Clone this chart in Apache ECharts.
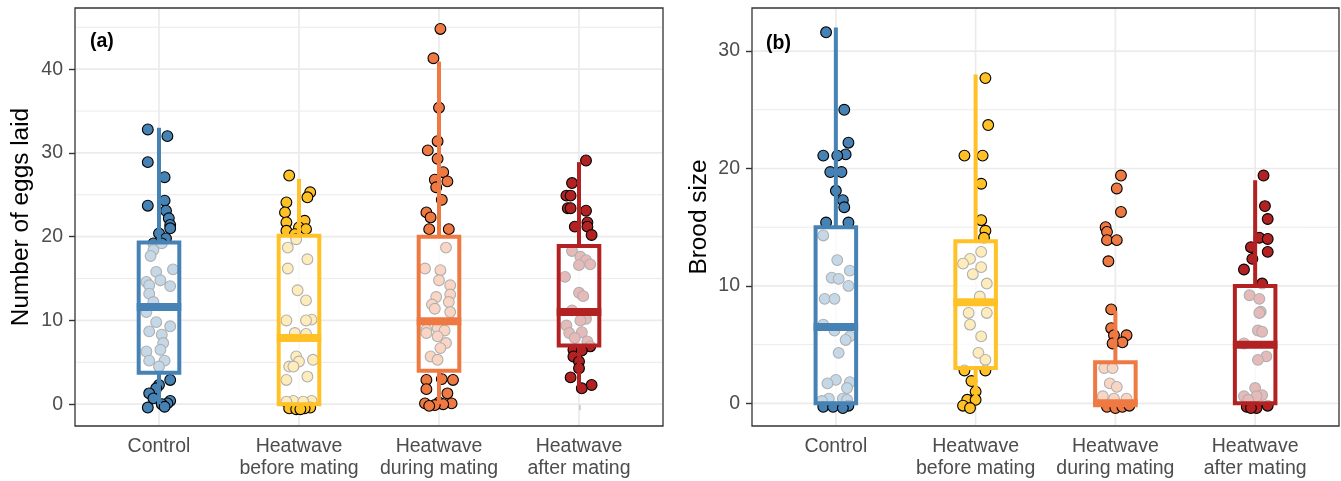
<!DOCTYPE html>
<html><head><meta charset="utf-8">
<script src="https://cdn.jsdelivr.net/npm/echarts@6/dist/echarts.min.js"></script>
<style>html,body{margin:0;padding:0;background:#fff}#c{width:1341px;height:481px}</style>
</head><body><div id="c"></div><script>
const categories = ['Control', 'Heatwave\nbefore mating', 'Heatwave\nduring mating', 'Heatwave\nafter mating'];
const colors = ['#4682B4', '#FFC125', '#EE7942', '#B22222'];
const eggsTicks = [0, 10, 20, 30, 40];
const eggsMinor = [5, 15, 25, 35, 45];
const broodTicks = [0, 10, 20, 30];
const broodMinor = [5, 15, 25];

// box stats per group: [lower whisker, Q1, median, Q3, upper whisker]
const eggsStats = [[0, 3.75, 11.6, 19.3, 33.0], [0, 0, 7.9, 20.1, 26.9], [0, 4, 9.9, 20.0, 40.9], [1.9, 7, 11, 18.9, 28.9]];
const broodStats = [[0, 0, 6.5, 15, 32], [0, 3, 8.6, 13.8, 28], [0, 0, 0, 3.5, 7.9], [0, 0, 5, 10, 19]];

// (a) number of eggs laid: values and horizontal jitter (category units)
const eggsControl = [32.8, 32.0, 28.9, 27.1, 23.7, 24.3, 23.1, 22.2, 21.4, 21.0, 20.4, 19.8, 19.2, 19.2, 18.4, 17.7, 16.1, 15.8, 14.8, 14.6, 14.2, 14.1, 13.2, 12.2, 11.0, 9.8, 9.3, 8.7, 8.3, 7.3, 6.5, 6.3, 5.2, 5.2, 4.5, 2.9, 2.3, 1.9, 1.3, 0.7, 0.4, 0.1, 0.0, -0.3, -0.4];
const eggsControlJit = [-0.08, 0.06, -0.08, 0.04, -0.08, 0.04, 0.05, 0.07, 0.08, 0.08, 0.00, 0.05, -0.04, 0.02, -0.04, -0.06, 0.10, -0.02, 0.01, -0.09, -0.07, 0.08, -0.07, -0.04, -0.09, -0.02, 0.08, -0.07, 0.02, 0.03, 0.01, -0.09, -0.07, 0.04, 0.00, 0.08, 0.00, -0.02, -0.07, -0.04, 0.08, 0.06, 0.02, 0.04, -0.08];
const eggsBefore = [27.3, 25.3, 24.7, 24.1, 22.9, 21.9, 21.7, 21.1, 20.9, 20.7, 20.3, 19.7, 18.7, 17.3, 16.2, 13.6, 12.4, 10.1, 10.0, 10.0, 8.5, 8.4, 5.7, 5.3, 5.1, 4.5, 4.5, 3.3, 2.9, 0.4, 0.4, 0.3, 0.3, -0.4, -0.5, -0.5, -0.6, -0.6];
const eggsBeforeJit = [-0.07, 0.08, 0.06, -0.09, -0.10, 0.04, -0.09, 0.00, 0.05, -0.09, -0.03, -0.02, -0.08, 0.06, -0.08, -0.01, 0.05, 0.09, -0.09, 0.05, -0.03, 0.05, -0.02, 0.10, 0.00, -0.07, -0.04, 0.06, -0.09, -0.04, 0.09, -0.09, 0.03, 0.08, -0.07, 0.04, -0.02, 0.01];
const eggsDuring = [44.8, 41.3, 35.4, 31.4, 30.3, 29.3, 27.7, 26.8, 26.6, 25.9, 24.4, 22.9, 22.3, 20.9, 20.9, 18.7, 16.2, 16.0, 14.8, 14.2, 13.1, 12.8, 12.2, 11.9, 11.4, 11.0, 9.1, 8.9, 8.8, 8.5, 8.1, 7.3, 6.7, 5.7, 5.3, 3.0, 2.9, 2.9, 1.8, 1.3, 0.2, 0.1, 0.1, 0.0, -0.1, -0.2];
const eggsDuringJit = [0.01, -0.04, 0.00, -0.01, -0.08, -0.01, 0.03, -0.03, 0.06, -0.02, 0.02, -0.09, -0.06, -0.07, 0.07, 0.05, -0.10, 0.01, 0.00, 0.08, 0.08, -0.02, 0.07, -0.05, -0.03, 0.08, -0.01, -0.09, 0.04, -0.09, -0.01, 0.05, 0.01, -0.06, -0.01, 0.02, -0.09, 0.10, -0.09, 0.06, 0.00, -0.10, 0.09, 0.03, -0.03, -0.07];
const eggsAfter = [29.1, 26.4, 24.9, 24.9, 23.4, 23.4, 23.1, 21.7, 21.2, 21.2, 20.2, 18.3, 17.6, 17.2, 16.7, 16.6, 15.2, 13.3, 12.9, 11.2, 10.2, 10.0, 9.4, 8.6, 8.5, 7.9, 7.5, 6.9, 6.5, 6.4, 5.7, 5.1, 4.3, 3.2, 2.3, 1.9];
const eggsAfterJit = [0.05, -0.05, -0.09, -0.06, -0.08, -0.06, 0.05, 0.06, -0.03, 0.06, 0.09, -0.05, 0.01, 0.05, 0.08, 0.00, -0.10, 0.00, 0.03, -0.05, 0.05, 0.01, -0.09, 0.02, -0.07, -0.03, 0.06, 0.08, -0.04, 0.02, -0.04, 0.00, 0.00, -0.06, 0.09, 0.02];

// (b) brood size
const broodControl = [31.6, 25.0, 22.2, 21.2, 21.1, 21.1, 19.7, 19.7, 18.1, 17.3, 16.7, 15.4, 15.4, 14.3, 12.2, 11.3, 10.7, 10.6, 10.0, 8.9, 8.9, 6.7, 6.2, 5.7, 5.4, 4.3, 2.0, 1.8, 1.7, 1.3, 0.4, 0.4, 0.3, 0.2, -0.2, -0.3, -0.3, -0.4];
const broodControlJit = [-0.07, 0.06, 0.09, 0.07, -0.09, 0.01, -0.04, 0.04, 0.00, 0.05, 0.06, -0.07, 0.09, -0.09, 0.01, 0.10, -0.03, 0.02, 0.09, -0.08, -0.01, -0.09, -0.01, 0.10, 0.07, 0.02, 0.00, 0.10, -0.06, 0.08, -0.05, 0.05, 0.08, -0.10, 0.09, -0.09, -0.02, 0.05];
const broodBefore = [27.7, 23.7, 21.1, 21.1, 18.7, 15.6, 14.7, 14.1, 12.9, 12.3, 11.9, 11.6, 11.0, 10.2, 9.1, 7.7, 7.7, 6.7, 5.7, 4.3, 3.7, 2.8, 2.8, 1.9, 1.0, 0.3, 0.3, -0.2, -0.4];
const broodBeforeJit = [0.07, 0.09, -0.08, 0.05, 0.04, 0.04, 0.07, 0.06, 0.04, -0.04, -0.09, 0.04, -0.02, 0.08, 0.03, -0.05, 0.08, -0.04, 0.04, 0.02, 0.07, -0.08, 0.07, -0.03, 0.00, -0.06, 0.00, -0.09, -0.04];
const broodDuring = [19.4, 18.3, 16.3, 15.0, 14.6, 13.9, 13.9, 12.1, 8.0, 6.4, 5.8, 5.8, 5.2, 5.1, 3.0, 3.0, 1.7, 1.4, 0.6, 0.4, 0.4, -0.3, -0.4, -0.3, -0.2];
const broodDuringJit = [0.04, 0.01, 0.04, -0.07, -0.06, -0.06, 0.01, -0.05, -0.03, -0.03, -0.01, 0.08, 0.05, -0.02, -0.08, -0.02, -0.04, 0.01, -0.09, 0.08, -0.01, -0.06, 0.00, 0.05, 0.10];
const broodAfter = [19.4, 16.8, 15.7, 14.1, 14.0, 13.3, 12.9, 12.3, 11.4, 10.2, 9.2, 8.9, 7.8, 7.7, 6.2, 6.1, 5.1, 4.0, 3.7, 1.3, 0.7, 0.6, 0.6, 0.3, -0.2, -0.3, -0.4, -0.4];
const broodAfterJit = [0.06, 0.07, 0.09, 0.03, 0.09, -0.03, 0.09, -0.02, -0.08, 0.05, -0.04, 0.03, 0.04, 0.03, 0.02, 0.05, -0.08, 0.08, 0.02, 0.00, 0.05, -0.08, 0.01, -0.05, 0.09, -0.06, 0.01, -0.03];

const eggsGroups = [[eggsControl, eggsControlJit], [eggsBefore, eggsBeforeJit], [eggsDuring, eggsDuringJit], [eggsAfter, eggsAfterJit]];
const broodGroups = [[broodControl, broodControlJit], [broodBefore, broodBeforeJit], [broodDuring, broodDuringJit], [broodAfter, broodAfterJit]];

const FONT = '"Liberation Sans", Arial, Helvetica, sans-serif';
const GRID = '#EBEBEB';
const BOX_HW = 0.145;

function hGrid(params, api) {
  const cs = params.coordSys;
  const y = api.coord([1, api.value(1)])[1];
  const major = api.value(2) === 1;
  return { type: 'line', shape: { x1: cs.x + 1, y1: y, x2: cs.x + cs.width - 1, y2: y },
    style: { stroke: GRID, lineWidth: major ? 1.7 : 1.0 } };
}
function vGrid(params, api) {
  const cs = params.coordSys;
  const x = api.coord([api.value(0), 0])[0];
  return { type: 'line', shape: { x1: x, y1: cs.y + 1, x2: x, y2: cs.y + cs.height - 1 },
    style: { stroke: GRID, lineWidth: 1.7 } };
}
function renderBox(params, api) {
  const x = api.value(0), lo = api.value(1), q1 = api.value(2), med = api.value(3), q3 = api.value(4), hi = api.value(5);
  const col = colors[params.dataIndex];
  const tl = api.coord([x - BOX_HW, q3]), br = api.coord([x + BOX_HW, q1]);
  const pHi = api.coord([x, hi]), pQ3 = api.coord([x, q3]), pQ1 = api.coord([x, q1]), pLo = api.coord([x, lo]);
  const ml = api.coord([x - BOX_HW, med]), mr = api.coord([x + BOX_HW, med]);
  return { type: 'group', children: [
    { type: 'line', shape: { x1: pHi[0], y1: pHi[1], x2: pQ3[0], y2: pQ3[1] }, style: { stroke: col, lineWidth: 4 } },
    { type: 'line', shape: { x1: pQ1[0], y1: pQ1[1], x2: pLo[0], y2: pLo[1] }, style: { stroke: col, lineWidth: 4 } },
    { type: 'rect', shape: { x: tl[0], y: tl[1], width: br[0] - tl[0], height: br[1] - tl[1] },
      style: { fill: 'rgba(255,255,255,0.69)', stroke: col, lineWidth: 4, lineJoin: 'miter' } },
    { type: 'line', shape: { x1: ml[0] - 2, y1: ml[1], x2: mr[0] + 2, y2: mr[1] }, style: { stroke: col, lineWidth: 8 } }
  ] };
}

function panelSeries(idx, groups, stats, ticks, minor) {
  const out = [];
  const gridData = ticks.map(v => [1, v, 1]).concat(minor.map(v => [1, v, 0]));
  out.push({ type: 'custom', xAxisIndex: idx, yAxisIndex: idx, z: 1, silent: true, renderItem: hGrid, data: gridData, clip: false });
  out.push({ type: 'custom', xAxisIndex: idx, yAxisIndex: idx, z: 1, silent: true, renderItem: vGrid, data: categories.map((c, i) => [i + 1, 0]), clip: false });
  groups.forEach((g, i) => {
    out.push({ type: 'scatter', xAxisIndex: idx, yAxisIndex: idx, z: 2, symbolSize: 10.8, silent: true,
      itemStyle: { color: colors[i], borderColor: '#000', borderWidth: 1.1, opacity: 1 },
      data: g[0].map((v, k) => [i + 1 + g[1][k], v]) });
  });
  out.push({ type: 'custom', xAxisIndex: idx, yAxisIndex: idx, z: 3, silent: true, renderItem: renderBox, clip: false,
    data: stats.map((s, i) => [i + 1].concat(s)) });
  return out;
}

function xAx(idx) {
  return { type: 'value', gridIndex: idx, min: 0.4, max: 4.6,
    axisLine: { show: false }, splitLine: { show: false },
    axisTick: { show: true, customValues: [1, 2, 3, 4], length: 6, lineStyle: { color: '#333', width: 1.4 } },
    axisLabel: { customValues: [1, 2, 3, 4], formatter: v => categories[Math.round(v) - 1] || '', color: '#4D4D4D',
      fontSize: 19.5, lineHeight: 22, margin: 10, fontFamily: FONT } };
}
function yAx(idx, min, max, ticks, name, gap) {
  return { type: 'value', gridIndex: idx, min: min, max: max,
    axisLine: { show: false }, splitLine: { show: false },
    axisTick: { show: true, customValues: ticks, length: 6, lineStyle: { color: '#333', width: 1.4 } },
    axisLabel: { customValues: ticks, color: '#4D4D4D', fontSize: 19.5, margin: 12, fontFamily: FONT },
    name: name, nameLocation: 'middle', nameGap: gap, nameRotate: 90,
    nameTextStyle: { fontSize: 24.4, color: '#000', fontFamily: FONT } };
}

const chart = echarts.init(document.getElementById('c'), null, { renderer: 'canvas' });
chart.setOption({
  animation: false,
  backgroundColor: '#fff',
  title: [
    { text: '(a)', left: 90, top: 32, padding: 0, textStyle: { fontSize: 19.5, fontWeight: 'bold', color: '#000', fontFamily: FONT } },
    { text: '(b)', left: 766, top: 34, padding: 0, textStyle: { fontSize: 19.5, fontWeight: 'bold', color: '#000', fontFamily: FONT } }
  ],
  grid: [
    { left: 75, top: 8, width: 588, height: 418, show: true, borderColor: '#333', borderWidth: 1.3, backgroundColor: 'transparent' },
    { left: 752, top: 8, width: 587, height: 418, show: true, borderColor: '#333', borderWidth: 1.3, backgroundColor: 'transparent' }
  ],
  xAxis: [xAx(0), xAx(1)],
  yAxis: [yAx(0, -2.6, 47.3, eggsTicks, 'Number of eggs laid', 42), yAx(1, -1.93, 33.67, broodTicks, 'Brood size', 41)],
  series: panelSeries(0, eggsGroups, eggsStats, eggsTicks, eggsMinor).concat(panelSeries(1, broodGroups, broodStats, broodTicks, broodMinor))
});
</script></body></html>
